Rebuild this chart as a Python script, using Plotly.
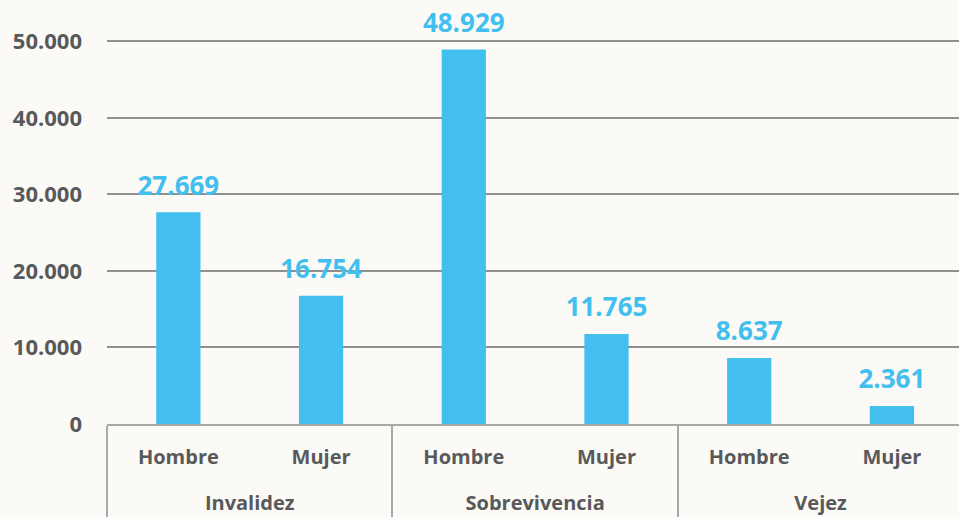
import plotly.graph_objects as go

groups = ["Invalidez", "Invalidez", "Sobrevivencia", "Sobrevivencia", "Vejez", "Vejez"]
sexes = ["Hombre", "Mujer", "Hombre", "Mujer", "Hombre", "Mujer"]
values = [27669, 16754, 48929, 11765, 8637, 2361]
y_ticks = [0, 10000, 20000, 30000, 40000, 50000]

bar_color = "#42bfee"
label_gray = "#58595b"
bg = "#fbfaf6"

sub_labels = [s + "<br><span style='font-size:38px'> </span>" for s in sexes]

fig = go.Figure()
fig.add_trace(go.Bar(
    x=[groups, sub_labels], y=values,
    marker=dict(color=bar_color, line=dict(width=0)),
    width=0.31, hoverinfo="skip",
))
fig.add_trace(go.Scatter(
    x=[groups, sub_labels], y=values, mode="markers+text",
    marker=dict(size=16, opacity=0),
    text=[f"{v:,}".replace(",", ".") for v in values],
    textposition="top center",
    textfont=dict(family="Open Sans", size=26, color=bar_color, weight="bold"),
    cliponaxis=False, hoverinfo="skip",
))

fig.update_layout(
    width=959, height=517,
    margin=dict(l=107, r=0, t=3, b=93, autoexpand=False),
    paper_bgcolor=bg, plot_bgcolor=bg,
    showlegend=False,
    separators=",.",
    font=dict(family="Open Sans", color=label_gray, size=20, weight="bold"),
)
fig.update_yaxes(
    range=[0, 55000], tickvals=y_ticks, tickformat=",d",
    showgrid=True, gridcolor="#8f8f8f", gridwidth=2,
    zeroline=False, showline=False, ticks="", ticklabelstandoff=24,
    automargin=False,
    tickfont=dict(family="Open Sans", size=22, color=label_gray, weight="bold"),
)
fig.update_xaxes(
    type="multicategory", range=[-0.5, 5.47],
    showline=True, linecolor="#a8a8a8", linewidth=2,
    showdividers=True, dividercolor="#a8a8a8", dividerwidth=2,
    ticks="", showgrid=False, ticklabelstandoff=14, automargin=False,
    tickfont=dict(family="Open Sans", size=20, color=label_gray, weight="bold"),
)

html = fig.to_html(include_plotlyjs=True, full_html=True, config={"displayModeBar": False})
html = html.replace("<head>", "<head><style>html,body{margin:0;padding:0;overflow:hidden;}</style>", 1)
with open("out.html", "w", encoding="utf-8") as f:
    f.write(html)
